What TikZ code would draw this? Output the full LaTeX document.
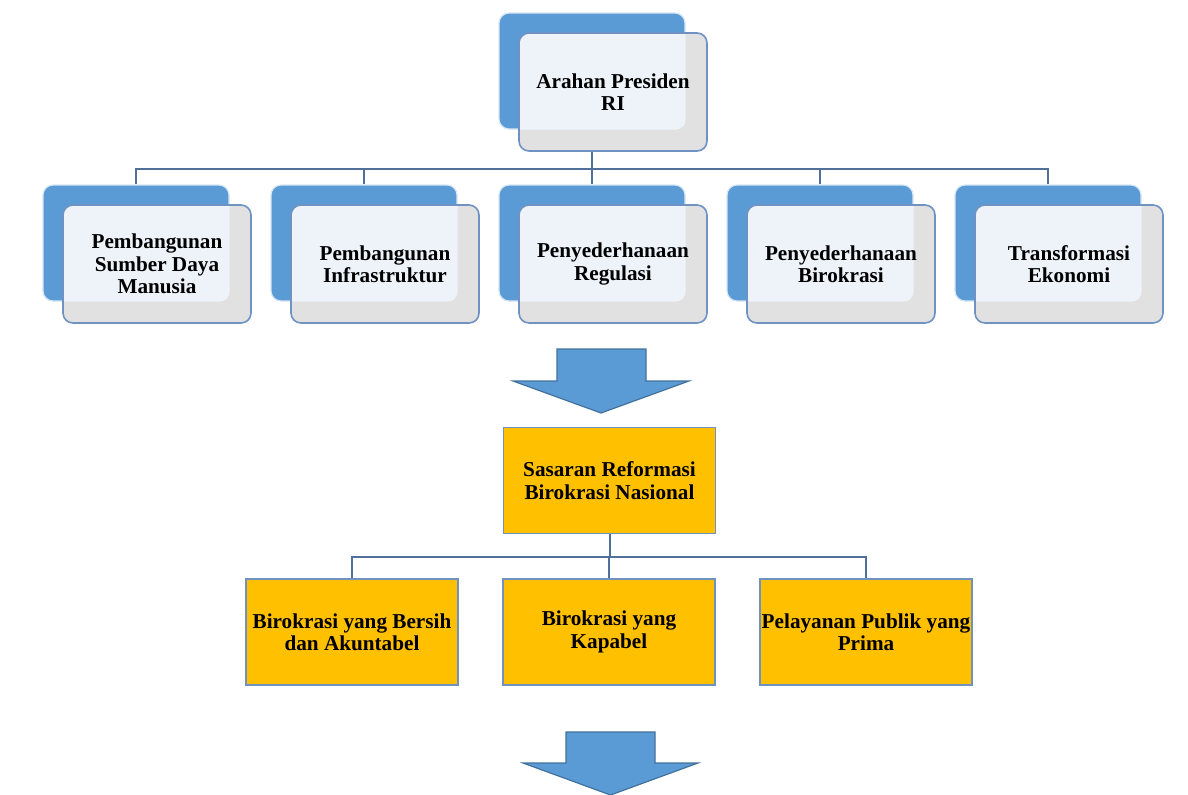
\documentclass[tikz,border=0pt]{standalone}
\usepackage{fontspec}
\setmainfont{Liberation Serif}
\usepackage{tikz}
\usetikzlibrary{positioning,backgrounds}
\definecolor{rablue}{HTML}{5B9BD5}
\definecolor{raedge}{HTML}{41719C}
\definecolor{raframe}{HTML}{7092C2}
\definecolor{rapale}{HTML}{EEF3FA}
\definecolor{ragrey}{HTML}{E1E1E1}
\definecolor{raline}{HTML}{50709A}
\definecolor{ragold}{HTML}{FFC000}
\tikzset{
  ra txt/.style={align=center, font=\fontsize{10.6}{11.2}\selectfont\bfseries, text=black},
  ra back/.style={rounded corners=5pt, draw=white!75!rablue, line width=0.6pt, fill=rablue,
                  minimum width=93pt, minimum height=58pt},
  ra front/.style={ra txt, rounded corners=5pt, draw=raframe, line width=0.8pt, fill=ragrey,
                   minimum width=94pt, minimum height=59pt,
                   path picture={\fill[rapale, rounded corners=5pt] (#1.north west) rectangle (#1.south east);}},
  ra goal/.style={ra txt, draw=raframe, line width=0.9pt, fill=ragold, inner sep=1pt,
                  minimum width=106pt, minimum height=53pt},
  ra line/.style={draw=raline, line width=1pt},
  ra arrow/.style={fill=rablue, draw=raedge, line width=0.6pt, line join=miter},
}
\begin{document}
\begin{tikzpicture}[x=0.5pt, y=-0.5pt]
  \useasboundingbox (0,0) rectangle (1188,794);
  % top: the president's direction
  \node[ra back] (tb) at (592,71) {};
  \node[ra front=tb] (top) at (613,92) {Arahan Presiden\\RI};
  % row of five priorities
  \foreach \i/\x in {1/136,2/364,3/592,4/820,5/1048}
    \node[ra back] (b\i) at (\x,243) {};
  \foreach \i/\x/\t in {1/136/{Pembangunan\\Sumber Daya\\Manusia}, 2/364/{Pembangunan\\Infrastruktur},
                        3/592/{Penyederhanaan\\Regulasi}, 4/820/{Penyederhanaan\\Birokrasi},
                        5/1048/{Transformasi\\Ekonomi}}
    \node[ra front=b\i] (f\i) at (\x+21,264) {\t};
  % first block arrow
  \draw[ra arrow] (557,349) -- (646,349) -- (646,381) -- (689,381) -- (601,413)
                  -- (513,381) -- (557,381) -- cycle;
  % national goal and its three targets
  \node[ra goal] (goal) at (609.5,480.5) {Sasaran Reformasi\\Birokrasi Nasional};
  \node[ra goal] (g1) at (352,632) {Birokrasi yang Bersih\\dan Akuntabel};
  \node[ra goal] (g2) at (609,632) {Birokrasi yang\\Kapabel};
  \node[ra goal] (g3) at (866,632) {Pelayanan Publik yang\\Prima};
  % second block arrow
  \draw[ra arrow] (566,732) -- (655,732) -- (655,763) -- (698,763) -- (610.5,795)
                  -- (523,763) -- (566,763) -- cycle;
  % tree connectors
  \begin{scope}[on background layer]
    \coordinate (bus1) at (0,169);
    \coordinate (bus2) at (0,557);
    \draw[ra line] (tb) -- (tb |- bus1);
    \draw[ra line] (b1.north) -- (b1.north |- bus1) -- (b5.north |- bus1) -- (b5.north);
    \foreach \i in {2,3,4} \draw[ra line] (b\i.north |- bus1) -- (b\i.north);
    \draw[ra line] (goal) -- (goal |- bus2);
    \draw[ra line] (g1.north) -- (g1.north |- bus2) -- (g3.north |- bus2) -- (g3.north);
    \draw[ra line] (g2.north |- bus2) -- (g2.north);
  \end{scope}
\end{tikzpicture}
\end{document}
